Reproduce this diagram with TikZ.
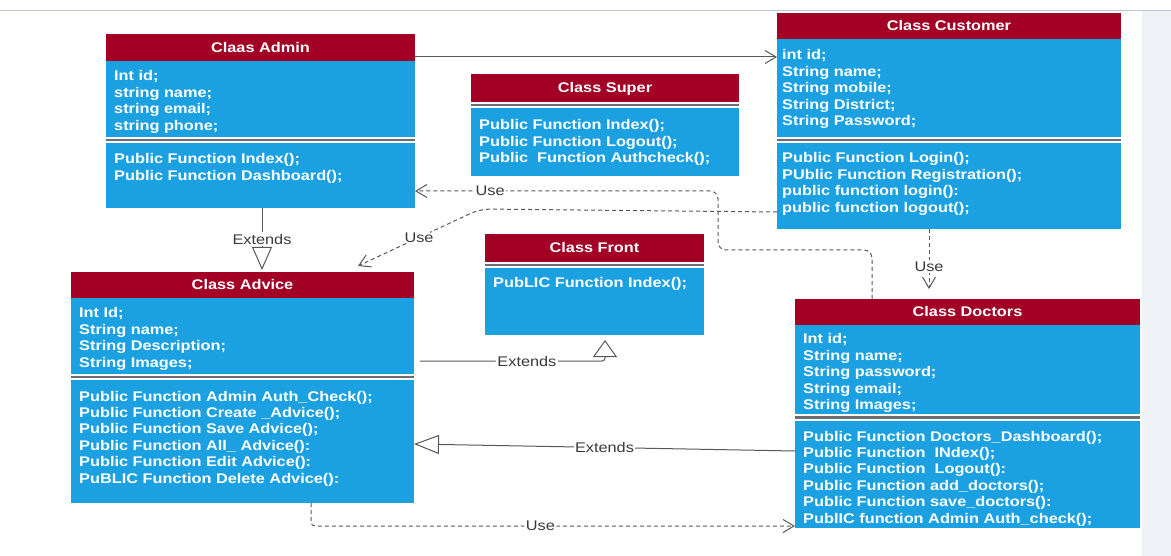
\documentclass[tikz,border=0pt]{standalone}
\usepackage{fontspec}
\setmainfont{Liberation Sans}[FakeStretch=1.165]
\usetikzlibrary{arrows.meta,calc}

\definecolor{umlred}{HTML}{A20025}
\definecolor{umlblue}{HTML}{1BA1E2}
\definecolor{sepgray}{HTML}{6E6E6E}
\definecolor{linegray}{HTML}{585858}
\definecolor{lblgray}{HTML}{3A3A3A}
\definecolor{toprule}{HTML}{BFC9D6}
\definecolor{panelbg}{HTML}{EEF1F6}

\newcommand\umlfont{\fontsize{14pt}{16.4pt}\selectfont}
% stacked compartment lines; the box baseline is the first line's baseline
\newcommand\umlrows[1]{\vtop{\baselineskip=16.4pt\lineskiplimit=-20pt\lineskip=0pt\relax #1}}
\newcommand\ur[1]{\hbox{#1}}

\tikzset{
  classbody/.style={fill=umlblue, inner sep=0pt, outer sep=0pt, anchor=north west},
  classhead/.style={fill=umlred, inner sep=0pt, outer sep=0pt, anchor=north west},
  headtext/.style={text=white, font=\umlfont\bfseries, inner sep=0pt, anchor=base},
  rowtext/.style={text=white, font=\umlfont\bfseries, inner sep=0pt, anchor=base west},
  compsep/.style={fill=white, inner sep=0pt, outer sep=0pt, anchor=north west, minimum height=6pt,
    path picture={\draw[sepgray, line width=2.2pt] (path picture bounding box.west) -- (path picture bounding box.east);}},
  lbl/.style={fill=white, text=lblgray, font=\umlfont, inner sep=1.5pt},
  conn/.style={draw=linegray, line width=1pt},
  assoc/.style={conn, -{Straight Barb[length=11pt,width=13pt]}},
  usedep/.style={conn, dash pattern=on 4pt off 3pt, -{Straight Barb[length=11pt,width=13pt]}},
  extends/.style={conn, -{Triangle[fill=white,#1]}},
  extends/.default={length=20pt,width=20pt},
}

\begin{document}
\begin{tikzpicture}[x=1pt, y=-1pt]
  % canvas
  \fill[white] (0,0) rectangle (1171,556);
  \useasboundingbox (0,0) rectangle (1171,556);
  \fill[panelbg] (1142,11) rectangle (1171,556);
  \draw[toprule, line width=1.3pt] (0,10.5) -- (1171,10.5);

  % ---- Class Admin
  \node[classbody, minimum width=309pt, minimum height=174pt] (admin) at (106,34) {};
  \node[classhead, minimum width=309pt, minimum height=27pt] (admin-h) at (admin.north west) {};
  \node[headtext] (admin-t) at ($(admin-h.center)+(0,5)$) {Claas Admin};
  \node[compsep, minimum width=309pt] (admin-s) at (106,137) {};
  \node[rowtext] (admin-a) at (114,81) {\umlrows{\ur{Int id;}\ur{string name;}\ur{string email;}\ur{string phone;}}};
  \node[rowtext] (admin-m) at (114,164) {\umlrows{\ur{Public Function Index();}\ur{Public Function Dashboard();}}};

  % ---- Class Customer
  \node[classbody, minimum width=344pt, minimum height=216pt] (customer) at (777,13) {};
  \node[classhead, minimum width=344pt, minimum height=26pt] (customer-h) at (customer.north west) {};
  \node[headtext] (customer-t) at ($(customer-h.center)+(0,5)$) {Class Customer};
  \node[compsep, minimum width=344pt] (customer-s) at (777,137) {};
  \node[rowtext] (customer-a) at (782,60) {\umlrows{\ur{int id;}\ur{String name;}\ur{String mobile;}\ur{String District;}\ur{String Password;}}};
  \node[rowtext] (customer-m) at (782,163) {\umlrows{\ur{Public Function Login();}\ur{PUblic Function Registration();}\ur{public function login():}\ur{public function logout();}}};

  % ---- Class Super
  \node[classbody, minimum width=268pt, minimum height=102pt] (super) at (471,74) {};
  \node[classhead, minimum width=268pt, minimum height=28pt] (super-h) at (super.north west) {};
  \node[headtext] (super-t) at ($(super-h.center)+(0,5)$) {Class Super};
  \node[compsep, minimum width=268pt] (super-s) at (471,102) {};
  \node[rowtext] (super-m) at (479,130) {\umlrows{\ur{Public Function Index();}\ur{Public Function Logout();}\ur{Public\ \ Function Authcheck();}}};

  % ---- Class Front
  \node[classbody, minimum width=219pt, minimum height=101pt] (front) at (485,234) {};
  \node[classhead, minimum width=219pt, minimum height=28pt] (front-h) at (front.north west) {};
  \node[headtext] (front-t) at ($(front-h.center)+(0,5)$) {Class Front};
  \node[compsep, minimum width=219pt] (front-s) at (485,262) {};
  \node[rowtext] (front-m) at (493,288) {\umlrows{\ur{PubLIC Function Index();}}};

  % ---- Class Advice
  \node[classbody, minimum width=343pt, minimum height=231pt] (advice) at (71,272) {};
  \node[classhead, minimum width=343pt, minimum height=26pt] (advice-h) at (advice.north west) {};
  \node[headtext] (advice-t) at ($(advice-h.center)+(0,5)$) {Class Advice};
  \node[compsep, minimum width=343pt] (advice-s) at (71,374) {};
  \node[rowtext] (advice-a) at (79,318) {\umlrows{\ur{Int Id;}\ur{String name;}\ur{String Description;}\ur{String Images;}}};
  \node[rowtext] (advice-m) at (79,401) {\umlrows{%
    \ur{Public Function Admin Auth\_Check();}
    \ur{Public Function Create \_Advice();}
    \ur{Public Function Save Advice();}
    \ur{Public Function All\_ Advice():}
    \ur{Public Function Edit Advice():}
    \ur{PuBLIC Function Delete Advice():}}};

  % ---- Class Doctors
  \node[classbody, minimum width=345pt, minimum height=229pt] (doctors) at (795,299) {};
  \node[classhead, minimum width=345pt, minimum height=26pt] (doctors-h) at (doctors.north west) {};
  \node[headtext] (doctors-t) at ($(doctors-h.center)+(0,5)$) {Class Doctors};
  \node[compsep, minimum width=345pt, minimum height=7pt] (doctors-s) at (795,414) {};
  \node[rowtext] (doctors-a) at (803,344) {\umlrows{\ur{Int id;}\ur{String name;}\ur{String password;}\ur{String email;}\ur{String Images;}}};
  \node[rowtext] (doctors-m) at (803,441) {\umlrows{%
    \ur{Public Function Doctors\_Dashboard();}
    \ur{Public Function\ \ INdex();}
    \ur{Public Function\ \ Logout():}
    \ur{Public Function add\_doctors();}
    \ur{Public Function save\_doctors():}
    \ur{PublIC function Admin Auth\_check();}}};

  % ---- relations
  % association Admin -> Customer
  \draw[assoc] ($(admin.north east)+(0,23)$) -- ($(customer.north west)+(0,44)$);

  % Advice extends Admin
  \draw[extends={length=23pt,width=20pt}] ($(admin.south west)+(156,0)$) -- ($(advice.north west)+(191,-2)$)
    node[lbl, pos=0.5] (ext1) {Extends};

  % Customer uses Advice
  \coordinate (advuse) at (358,266);
  \draw[usedep, rounded corners=10pt] ($(customer.north west)+(0,199)$) -- (480,209) -- (advuse)
    node[lbl, pos=0.5] (use1) {Use};

  % Doctors uses Admin
  \draw[usedep, rounded corners=8pt] ($(doctors.north west)+(77,0)$) |- (718,250) |- ($(admin.north east)+(0,157)$)
    node[lbl, pos=0.876] (use2) {Use};

  % Customer uses Doctors
  \draw[usedep] ($(customer.south west)+(152,0)$) -- ($(doctors.north west)+(134,-10)$)
    node[lbl, pos=0.63] (use3) {Use};

  % Advice extends Front
  \draw[extends={length=17pt,width=24pt}, rounded corners=3pt] ($(advice.north east)+(6,89)$) -| ($(front.south west)+(120,5)$)
    node[lbl, pos=0.289] (ext2) {Extends};

  % Doctors extends Advice
  \draw[extends={length=25pt,width=19pt}] ($(doctors.north west)+(0,152)$) -- ($(advice.north east)+(0,172)$)
    node[lbl, pos=0.5] (ext3) {Extends};

  % Advice uses Doctors
  \draw[usedep, rounded corners=4pt] ($(advice.south west)+(240,0)$) |- ($(doctors.south west)+(0,-2)$)
    node[lbl, pos=0.737] (use4) {Use};
\end{tikzpicture}
\end{document}
